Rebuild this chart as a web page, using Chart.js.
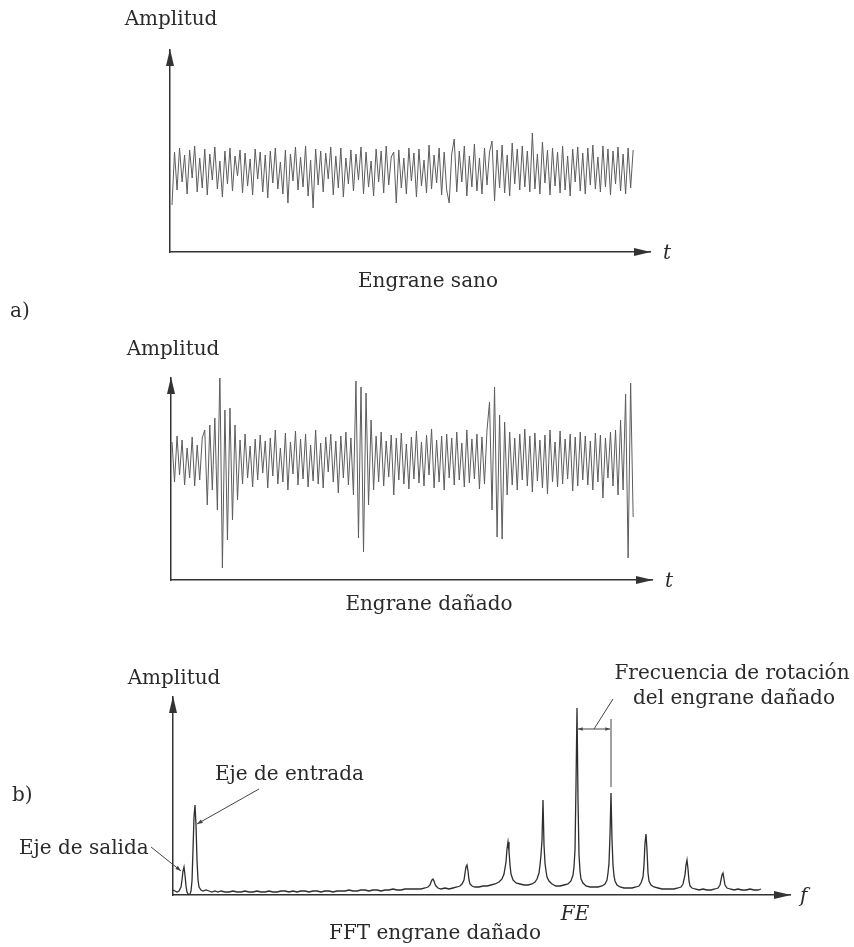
<!DOCTYPE html>
<html lang="es">
<head>
<meta charset="UTF-8">
<title>Engrane sano / Engrane dañado / FFT</title>
<style>
  body { margin: 0; background: #fff; }
  #page { position: relative; width: 854px; height: 947px; font-family: "DejaVu Serif", serif; color: #2a2a2a; }
  canvas { position: absolute; left: 0; }
  .lbl { position: absolute; font-size: 20px; line-height: 1; white-space: nowrap; transform: translate(-50%, -50%); }
  .left { transform: translate(0, -50%); }
  .it { font-style: italic; }
</style>
<script src="https://cdn.jsdelivr.net/npm/chart.js"></script>
</head>
<body>
<div id="page">
  <canvas id="sano" width="854" height="270" style="top:0"></canvas>
  <canvas id="danado" width="854" height="280" style="top:320px"></canvas>
  <canvas id="fft" width="854" height="290" style="top:640px"></canvas>

  <div class="lbl" style="left:171px;top:18px">Amplitud</div>
  <div class="lbl left it" style="left:663px;top:252px">t</div>
  <div class="lbl" style="left:428px;top:280px">Engrane sano</div>
  <div class="lbl left" style="left:10px;top:310px">a)</div>

  <div class="lbl" style="left:173px;top:348px">Amplitud</div>
  <div class="lbl left it" style="left:665px;top:580px">t</div>
  <div class="lbl" style="left:429px;top:603px">Engrane dañado</div>

  <div class="lbl" style="left:174px;top:677px">Amplitud</div>
  <div class="lbl" style="left:732px;top:672px">Frecuencia de rotación</div>
  <div class="lbl" style="left:734px;top:697px">del engrane dañado</div>
  <div class="lbl left" style="left:12px;top:794px">b)</div>
  <div class="lbl left" style="left:215px;top:773px">Eje de entrada</div>
  <div class="lbl left" style="left:19px;top:847px">Eje de salida</div>
  <div class="lbl left it" style="left:800px;top:895px">f</div>
  <div class="lbl it" style="left:575px;top:913px">FE</div>
  <div class="lbl" style="left:435px;top:932px">FFT engrane dañado</div>
</div>

<script>
// a) healthy gear, time signal (amplitude, 0 = signal centre)
const sanoValues = [
  -35, 18, -20, 22, -12, 15, -24, 20, -8, 24,
  -22, 12, -18, 21, -25, 16, -10, 23, -19, 9,
  -27, 19, -14, 22, -21, 14, -6, 20, -23, 17,
  -16, 11, -25, 21, -9, 18, -22, 15, -28, 19,
  -13, 22, -19, 8, -24, 20, -33, 16, -11, 23,
  -20, 13, -17, 24, -26, 10, -38, 21, -15, 19,
  -22, 17, -9, 23, -25, 14, -18, 22, -27, 12,
  -14, 20, -21, 16, -10, 23, -24, 18, -17, 9,
  -26, 21, -12, 19, -23, 24, -15, 13, 18, -33,
  20, -18, 12, -24, 22, -11, 17, -27, 21, -16,
  10, -23, 25, -19, 15, -13, 22, -25, 18, -20,
  -33, 16, 31, -22, 19, -12, 24, -26, 14, -17,
  26, -21, 12, -24, 22, -15, 18, 29, -31, 20,
  -18, 25, -23, 15, -26, 27, -14, 21, -20, 24,
  -17, 19, -22, 37, -19, 16, -24, 28, -13, 20,
  -25, 22, -16, 18, -23, 24, -20, 14, -26, 21,
  -12, 23, -21, 17, -24, 22, -15, 25, -19, 13,
  -22, 24, -17, 21, -25, 19, -14, 23, -21, 16,
  -24, 22, -18, 20
];

// damaged gear, time signal with the periodic impacts
const danadoValues = [
  18, -22, 24, -15, 20, -25, 12, -18, 23, -26,
  15, -20, 22, 30, -45, 35, -30, 42, -50, 88,
  -108, 50, -80, 52, -60, 35, -40, 20, -24, 26,
  -18, 14, -27, 21, -20, 25, -13, 19, -28, 22,
  -16, 30, -24, 12, -22, 27, -30, 18, -14, 29,
  -25, 21, -19, 26, -27, 15, -21, 30, -24, 17,
  -28, 23, -12, 26, -22, 19, -33, 24, -18, 28,
  -25, 22, -35, 79, -78, 73, -92, 67, -45, 40,
  -30, 24, -22, 28, -26, 19, -17, 25, -35, 22,
  -20, 27, -24, 16, -29, 23, -19, 29, -23, 18,
  -26, 25, -15, 31, -28, 20, -22, 24, -30, 26,
  -18, 22, -25, 28, -20, 17, -27, 30, -23, 21,
  -19, 26, -29, 23, -24, 30, 58, -50, 73, -77,
  45, -79, 38, -35, 28, -25, 22, -30, 26, -20,
  31, -26, 24, -32, 27, -21, 20, -28, 25, -34,
  30, -22, 18, -27, 29, -24, 21, -19, 26, -31,
  23, -26, 28, -20, 24, -25, 19, -30, 27, -22,
  25, -38, 22, -18, 28, -26, 30, -35, 40, -30,
  66, -98, 77, -57
];

// b) FFT of the damaged gear: frequency and amplitude
const fftFreq = [
  0, 2, 4, 6, 8, 9, 10, 11, 12, 13, 14, 15, 16, 17, 18, 19, 20, 21, 22, 23, 24, 25, 26, 28, 30,
  33, 36, 39, 42, 45, 48, 52, 56, 60, 64, 68, 72, 76, 80, 84, 88, 92, 96, 100, 104, 108, 112, 116, 120, 124,
  128, 132, 136, 140, 144, 148, 152, 156, 160, 164, 168, 172, 176, 180, 184, 188, 192, 196, 200, 204, 208, 212, 216, 220, 224,
  228, 232, 236, 240, 244, 248, 252, 255, 257, 258, 259, 260, 261, 262, 263, 265, 268, 272, 276, 280, 284, 287, 289, 291, 292, 293, 294, 295, 296, 297, 299,
  302, 306, 310, 314, 318, 322, 326, 329, 331, 333, 334, 335, 336, 337, 338, 340, 343, 347, 351, 355, 359, 362, 364, 366, 367, 368, 369, 370, 371, 372, 373, 374, 376, 379,
  383, 387, 391, 395, 398, 400, 401, 402, 403, 404, 405, 406, 407, 408, 410, 413, 417, 421, 425, 429, 432, 434, 435, 436, 437, 438, 439, 440, 441, 442, 444, 447,
  451, 455, 459, 463, 466, 468, 470, 471, 472, 473, 474, 475, 476, 478, 481, 485, 489, 493, 497, 501, 505, 508, 510, 512, 513, 514, 515, 516, 517, 519, 522, 526, 530, 534, 538, 542, 545, 547, 548, 549, 550, 551, 552, 554, 557, 561, 565, 569, 573, 577, 581, 585, 588
];
const fftAmp = [
  5, 4, 3, 4, 8, 15, 24, 28, 20, 9, 3, 1, 0, 1, 4, 14, 45, 78, 90, 70, 35, 15, 8, 5, 4,
  5, 4, 3, 4, 3, 4, 3, 3, 4, 3, 3, 4, 3, 3, 4, 3, 3, 4, 3, 3, 4, 4, 3, 4, 3,
  4, 4, 3, 4, 4, 3, 4, 4, 3, 4, 4, 4, 5, 4, 4, 5, 5, 4, 5, 5, 4, 5, 5, 6, 5,
  5, 6, 6, 6, 6, 6, 7, 8, 10, 13, 15, 16, 14, 11, 9, 7, 6, 7, 6, 7, 8, 9, 11, 15, 22, 28, 30, 24, 15, 11, 9,
  8, 8, 9, 9, 10, 11, 13, 16, 21, 33, 46, 53, 44, 30, 21, 15, 12, 11, 10, 10, 11, 13, 16, 22, 30, 40, 55, 95, 50, 32, 24, 18, 14, 11,
  9, 9, 10, 11, 14, 20, 28, 45, 110, 187, 95, 40, 24, 16, 12, 9, 8, 8, 8, 9, 11, 15, 22, 32, 60, 102, 55, 30, 19, 14, 10, 8,
  7, 7, 7, 8, 9, 12, 18, 30, 52, 61, 45, 22, 14, 10, 8, 7, 6, 6, 6, 6, 7, 8, 11, 20, 30, 35, 26, 14, 9, 7, 6, 5, 6, 5, 5, 6, 7, 10, 15, 20, 22, 16, 10, 7, 6, 5, 6, 5, 5, 6, 5, 5, 6
];

// peaks marked by the "Frecuencia de rotación" bracket (FE and the next sideband)
const rotationPair = [404, 438];

const PX_PER_SAMPLE = 2.52;  // spacing of the time samples on screen
const INK = '#333';

// arrowheads on the end of both axes
const axisArrows = {
  id: 'axisArrows',
  afterDraw(chart) {
    const { ctx, chartArea: a } = chart;
    ctx.save();
    ctx.fillStyle = INK;
    ctx.beginPath();
    ctx.moveTo(a.left, a.top - 1);
    ctx.lineTo(a.left - 4, a.top + 16);
    ctx.lineTo(a.left + 4, a.top + 16);
    ctx.closePath();
    ctx.fill();
    ctx.beginPath();
    ctx.moveTo(a.right + 1, a.bottom);
    ctx.lineTo(a.right - 16, a.bottom - 4);
    ctx.lineTo(a.right - 16, a.bottom + 4);
    ctx.closePath();
    ctx.fill();
    ctx.restore();
  }
};

function plainScales(xMin, xMax, yMin, yMax) {
  const common = {
    ticks: { display: false },
    grid: { display: false },
    border: { display: true, color: INK, width: 1.5 }
  };
  return {
    x: { ...common, type: 'linear', min: xMin, max: xMax, afterFit: s => { s.height = 0; } },
    y: { ...common, type: 'linear', min: yMin, max: yMax, afterFit: s => { s.width = 0; } }
  };
}

function signalChart(id, values, pad, yMin, yMax) {
  const areaLeft = pad.left, areaRight = 854 - pad.right;
  const firstX = 172;
  return new Chart(document.getElementById(id), {
    type: 'line',
    data: {
      datasets: [{
        data: values.map((v, i) => ({ x: i, y: v })),
        borderColor: '#5c5c5c',
        borderWidth: 1,
        pointRadius: 0,
        tension: 0
      }]
    },
    options: {
      responsive: false,
      animation: false,
      layout: { padding: pad },
      plugins: { legend: { display: false }, tooltip: { enabled: false } },
      scales: plainScales((areaLeft - firstX) / PX_PER_SAMPLE, (areaRight - firstX) / PX_PER_SAMPLE, yMin, yMax)
    },
    plugins: [axisArrows]
  });
}

signalChart('sano', sanoValues, { left: 170, right: 204, top: 50, bottom: 18 }, -82, 120);
signalChart('danado', danadoValues, { left: 171, right: 202, top: 58, bottom: 20 }, -120, 82);

function arrowHead(ctx, x0, y0, x1, y1, size) {
  const ang = Math.atan2(y1 - y0, x1 - x0);
  ctx.beginPath();
  ctx.moveTo(x1, y1);
  ctx.lineTo(x1 - size * Math.cos(ang - 0.35), y1 - size * Math.sin(ang - 0.35));
  ctx.lineTo(x1 - size * Math.cos(ang + 0.35), y1 - size * Math.sin(ang + 0.35));
  ctx.closePath();
  ctx.fill();
}

function seg(ctx, x0, y0, x1, y1) {
  ctx.beginPath();
  ctx.moveTo(x0, y0);
  ctx.lineTo(x1, y1);
  ctx.stroke();
}

// leader lines and the rotation-frequency bracket
const fftNotes = {
  id: 'fftNotes',
  afterDraw(chart) {
    const { ctx, scales: { x, y } } = chart;
    const X = v => x.getPixelForValue(v), Y = v => y.getPixelForValue(v);
    ctx.save();
    ctx.strokeStyle = '#444';
    ctx.fillStyle = '#444';
    ctx.lineWidth = 1;
    // bracket
    const xa = X(rotationPair[0]), xb = X(rotationPair[1]);
    seg(ctx, xb, Y(176), xb, Y(108));
    seg(ctx, xa + 1, Y(166), xb - 1, Y(166));
    arrowHead(ctx, xb, Y(166), xa + 1, Y(166), 5);
    arrowHead(ctx, xa, Y(166), xb - 1, Y(166), 5);
    seg(ctx, X(440), Y(196), X(421), Y(166));
    // Eje de entrada
    seg(ctx, X(86), Y(106), X(24), Y(71));
    arrowHead(ctx, X(86), Y(106), X(24), Y(71), 6);
    // Eje de salida
    seg(ctx, X(-22), Y(48), X(8), Y(24));
    arrowHead(ctx, X(-22), Y(48), X(8), Y(24), 6);
    ctx.restore();
  }
};

new Chart(document.getElementById('fft'), {
  type: 'line',
  data: {
    datasets: [{
      data: fftFreq.map((f, i) => ({ x: f, y: fftAmp[i] })),
      borderColor: '#2e2e2e',
      borderWidth: 1.3,
      pointRadius: 0,
      tension: 0
    }]
  },
  options: {
    responsive: false,
    animation: false,
    layout: { padding: { left: 173, right: 64, top: 57, bottom: 35 } },
    plugins: { legend: { display: false }, tooltip: { enabled: false } },
    scales: plainScales(0, 617, 0, 198)
  },
  plugins: [axisArrows, fftNotes]
});
</script>
</body>
</html>
